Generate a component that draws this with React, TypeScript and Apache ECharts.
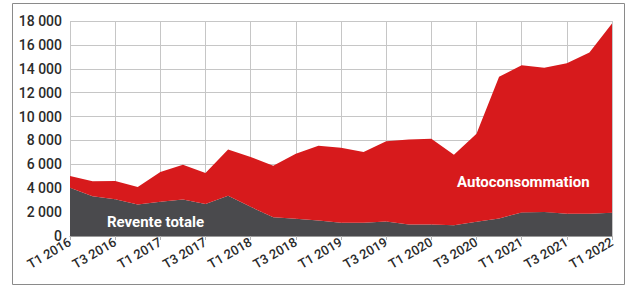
import React, { useEffect, useRef } from "react";
import * as echarts from "echarts";

const quarters = [
  "T1 2016", "T2 2016", "T3 2016", "T4 2016",
  "T1 2017", "T2 2017", "T3 2017", "T4 2017",
  "T1 2018", "T2 2018", "T3 2018", "T4 2018",
  "T1 2019", "T2 2019", "T3 2019", "T4 2019",
  "T1 2020", "T2 2020", "T3 2020", "T4 2020",
  "T1 2021", "T2 2021", "T3 2021", "T4 2021",
  "T1 2022",
];

const reventeTotale = [
  4030, 3330, 3080, 2640, 2860, 3060, 2670, 3360, 2440, 1560, 1440, 1300,
  1110, 1100, 1220, 970, 970, 900, 1200, 1470, 1970, 2000, 1860, 1860, 1940,
];

const autoconsommation = [
  1000, 1250, 1530, 1470, 2500, 2910, 2610, 3890, 4170, 4330, 5450, 6260,
  6280, 5930, 6720, 7110, 7170, 5900, 7360, 11860, 12330, 12080, 12610, 13500, 15860,
];

const yTicks = [0, 2000, 4000, 6000, 8000, 10000, 12000, 14000, 16000, 18000];

const fmt = (v: number) =>
  String(v).replace(/\B(?=(\d{3})+(?!\d))/g, " ");

export default function App() {
  const ref = useRef<HTMLDivElement>(null);
  useEffect(() => {
    document.body.style.margin = "0";
    const chart = echarts.init(ref.current!, undefined, { renderer: "svg" });
    chart.setOption({
      animation: false,
      backgroundColor: "#ffffff",
      grid: { left: 70, right: 17, top: 21, bottom: 50 },
      xAxis: {
        type: "category",
        data: quarters,
        boundaryGap: false,
        axisLine: { lineStyle: { color: "#9a9a9a", width: 1 } },
        axisTick: { show: true, interval: 1, length: 4, lineStyle: { color: "#b0b0b0" } },
        axisLabel: {
          interval: 1,
          rotate: 30,
          margin: 5,
          color: "#2b2b2b",
          fontFamily: "Roboto",
          fontWeight: 500,
          fontSize: 13,
        },
        splitLine: { show: true, interval: 1, lineStyle: { color: "#c6c6c6", width: 1 } },
      },
      yAxis: {
        type: "value",
        min: yTicks[0],
        max: yTicks[yTicks.length - 1],
        interval: 2000,
        axisLine: { show: false },
        axisTick: { show: false },
        axisLabel: {
          formatter: (v: number) => fmt(v),
          color: "#2b2b2b",
          fontFamily: "Roboto",
          fontWeight: 500,
          fontSize: 14,
          margin: 8,
        },
        splitLine: { show: true, lineStyle: { color: "#c6c6c6", width: 1 } },
      },
      series: [
        {
          name: "Revente totale",
          type: "line",
          stack: "total",
          data: reventeTotale,
          symbol: "none",
          lineStyle: { width: 0 },
          areaStyle: { color: "#4a4a4d", opacity: 1 },
          z: 3,
        },
        {
          name: "Autoconsommation",
          type: "line",
          stack: "total",
          data: autoconsommation,
          symbol: "none",
          lineStyle: { width: 0 },
          areaStyle: { color: "#d71a1c", opacity: 1 },
          z: 3,
        },
      ],
      graphic: [
        {
          type: "rect",
          shape: { x: 12.5, y: 3.5, width: 612, height: 281 },
          style: { fill: "none", stroke: "#8a8a8a", lineWidth: 1 },
          z: 10,
        },
        {
          type: "text",
          x: 107,
          y: 222,
          style: {
            text: "Revente totale",
            fill: "#ffffff",
            font: "bold 15px Roboto",
            verticalAlign: "middle",
          },
          z: 10,
        },
        {
          type: "text",
          x: 457,
          y: 182,
          style: {
            text: "Autoconsommation",
            fill: "#ffffff",
            font: "bold 15px Roboto",
            verticalAlign: "middle",
          },
          z: 10,
        },
      ],
    });
    return () => chart.dispose();
  }, []);
  return <div ref={ref} style={{ width: 629, height: 286 }} />;
}
